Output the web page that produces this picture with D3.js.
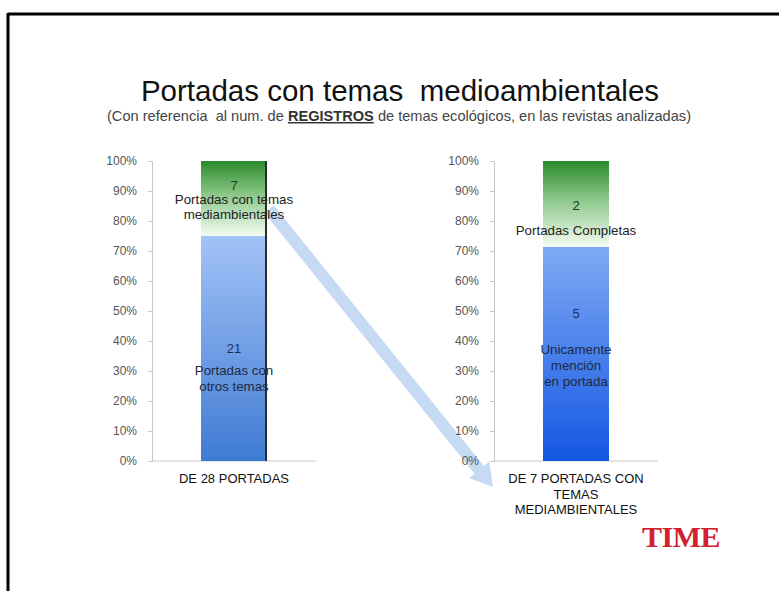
<!DOCTYPE html>
<html>
<head>
<meta charset="utf-8">
<script src="https://cdn.jsdelivr.net/npm/d3@7"></script>
<style>
  html, body { margin: 0; padding: 0; background: #fff; }
  svg { display: block; font-family: "Liberation Sans", Arial, Helvetica, sans-serif; }
</style>
</head>
<body>
<svg id="chart" width="779" height="591"></svg>
<script>
// ---- data ----
const titleText = "Portadas con temas  medioambientales";
const categories = ["DE 28 PORTADAS", "DE 7 PORTADAS CON TEMAS MEDIAMBIENTALES"];
const categoryLines = [["DE 28 PORTADAS"], ["DE 7 PORTADAS CON", "TEMAS", "MEDIAMBIENTALES"]];
const leftValues = [21, 7];
const leftLabels = [["Portadas con", "otros temas"], ["Portadas con temas", "mediambientales"]];
const rightValues = [5, 2];
const rightLabels = [["Unicamente", "mención", "en portada"], ["Portadas Completas"]];
const tickValues = [0, 0.1, 0.2, 0.3, 0.4, 0.5, 0.6, 0.7, 0.8, 0.9, 1.0];

const svg = d3.select("#chart");
const defs = svg.append("defs");

function grad(id, stops) {
  const g = defs.append("linearGradient").attr("id", id)
    .attr("x1", 0).attr("y1", 0).attr("x2", 0).attr("y2", 1);
  stops.forEach(s => g.append("stop").attr("offset", s[0]).attr("stop-color", s[1]));
}
grad("gGreen", [[0, "#2a8a2a"], [0.45, "#8cc88a"], [1, "#f4fbf2"]]);
grad("gBlueL", [[0, "#a3c3f7"], [1, "#3f7bd3"]]);
grad("gBlueR", [[0, "#7eaaf4"], [1, "#1457e3"]]);

// frame
svg.append("line").attr("x1", 8).attr("y1", 14).attr("x2", 779).attr("y2", 14)
  .attr("stroke", "#000").attr("stroke-width", 3);
svg.append("line").attr("x1", 8).attr("y1", 13).attr("x2", 8).attr("y2", 591)
  .attr("stroke", "#000").attr("stroke-width", 3);

// arrow layer sits behind everything else
const arrowLayer = svg.append("g");

// title
svg.append("text").attr("x", 400).attr("y", 101).attr("text-anchor", "middle")
  .attr("font-size", 29.5).attr("fill", "#111").style("white-space", "pre").text(titleText);
const sub = svg.append("text").attr("x", 399).attr("y", 121).attr("text-anchor", "middle")
  .attr("font-size", 14.6).attr("fill", "#444").style("white-space", "pre");
sub.append("tspan").text("(Con referencia  al num. de ");
sub.append("tspan").attr("font-weight", "bold").attr("text-decoration", "underline").attr("fill", "#333").text("REGISTROS");
sub.append("tspan").text(" de temas ecológicos, en las revistas analizadas)");

const y = d3.scaleLinear().domain([0, 1]).range([461, 161]);

function panel(opts) {
  const g = svg.append("g");
  const total = d3.sum(opts.values);
  const x = d3.scaleBand().domain([opts.category]).range([opts.axisX, opts.axisX + 164]).paddingInner(0).paddingOuter(0.742);
  // axis
  const ax = g.append("g").attr("transform", `translate(${opts.axisX},0)`)
    .call(d3.axisLeft(y).tickValues(tickValues).tickFormat(d3.format(".0%")).tickSize(4).tickPadding(11));
  ax.select(".domain").attr("stroke", "#c8c8c8");
  ax.selectAll(".tick line").attr("stroke", "#c8c8c8");
  ax.selectAll(".tick text").attr("fill", "#555").attr("font-size", 12)
    .attr("font-family", "Liberation Sans, Arial, sans-serif");
  // baseline
  g.append("line").attr("x1", opts.axisX).attr("x2", opts.axisX + 164)
    .attr("y1", y(0)).attr("y2", y(0)).attr("stroke", "#c8c8c8");
  // stacked
  let cum = 0;
  const bw = x.bandwidth();
  const bx = x(opts.category);
  const segs = opts.values.map((v, i) => {
    const s = { v, i, y0: cum / total, y1: (cum + v) / total };
    cum += v; return s;
  });
  g.selectAll("rect.seg").data(segs).join("rect").attr("class", "seg")
    .attr("x", bx).attr("width", bw)
    .attr("y", d => y(d.y1)).attr("height", d => y(d.y0) - y(d.y1))
    .attr("fill", d => d.i === 0 ? opts.blue : "url(#gGreen)");
  if (opts.edge) {
    g.append("line").attr("x1", bx + bw - 1).attr("x2", bx + bw - 1)
      .attr("y1", y(1)).attr("y2", y(0)).attr("stroke", "#2b2b2b").attr("stroke-width", 2);
  }
  // labels
  segs.forEach(s => {
    const cx = bx + bw / 2;
    const o = opts.labelPos[s.i];
    g.append("text").attr("x", cx).attr("y", o.num).attr("text-anchor", "middle")
      .attr("font-size", 13).attr("fill", s.i === 0 ? "#1d2f5c" : "#1e3a1e").text(s.v);
    opts.labels[s.i].forEach((t, k) => {
      g.append("text").attr("x", cx).attr("y", o.txt + k * o.lh).attr("text-anchor", "middle")
        .attr("font-size", 13.3).attr("fill", s.i === 0 ? "#1d2a44" : "#222").text(t);
    });
  });
  // category
  opts.catLines.forEach((t, k) => {
    g.append("text").attr("x", bx + bw / 2).attr("y", 483 + k * 15.5).attr("text-anchor", "middle")
      .attr("font-size", 13).attr("fill", "#111").text(t);
  });
  return { bx, bw };
}

const L = panel({ axisX: 152, category: categories[0], values: leftValues, labels: leftLabels,
  blue: "url(#gBlueL)", edge: true, catLines: categoryLines[0],
  labelPos: [{ num: 353, txt: 375, lh: 16 }, { num: 190, txt: 204, lh: 15 }] });
const R = panel({ axisX: 494, category: categories[1], values: rightValues, labels: rightLabels,
  blue: "url(#gBlueR)", edge: false, catLines: categoryLines[1],
  labelPos: [{ num: 318, txt: 354, lh: 16 }, { num: 210, txt: 235, lh: 15 }] });

// arrow annotation (from left bar edge to right axis baseline), behind other marks
(function () {
  const x0 = L.bx + L.bw + 2, y0 = y(0.84);
  const x1 = 493, y1 = y(0) + 26;
  const ang = Math.atan2(y1 - y0, x1 - x0);
  const len = Math.hypot(x1 - x0, y1 - y0);
  const sw = 6, hw = 13, hl = 22;
  const pts = [[0, -sw], [len - hl, -sw], [len - hl, -hw], [len, 0], [len - hl, hw], [len - hl, sw], [0, sw]];
  arrowLayer.append("polygon")
    .attr("points", pts.map(p => p.join(",")).join(" "))
    .attr("transform", `translate(${x0},${y0}) rotate(${ang * 180 / Math.PI})`)
    .attr("fill", "#c7daf4");
})();

// TIME logo
svg.append("text").attr("x", 681).attr("y", 547).attr("text-anchor", "middle")
  .attr("font-family", "Liberation Serif, 'DejaVu Serif', serif").attr("font-size", 30)
  .attr("font-weight", "bold").attr("fill", "#d3202f").attr("letter-spacing", -0.5).text("TIME");
</script>
</body>
</html>
